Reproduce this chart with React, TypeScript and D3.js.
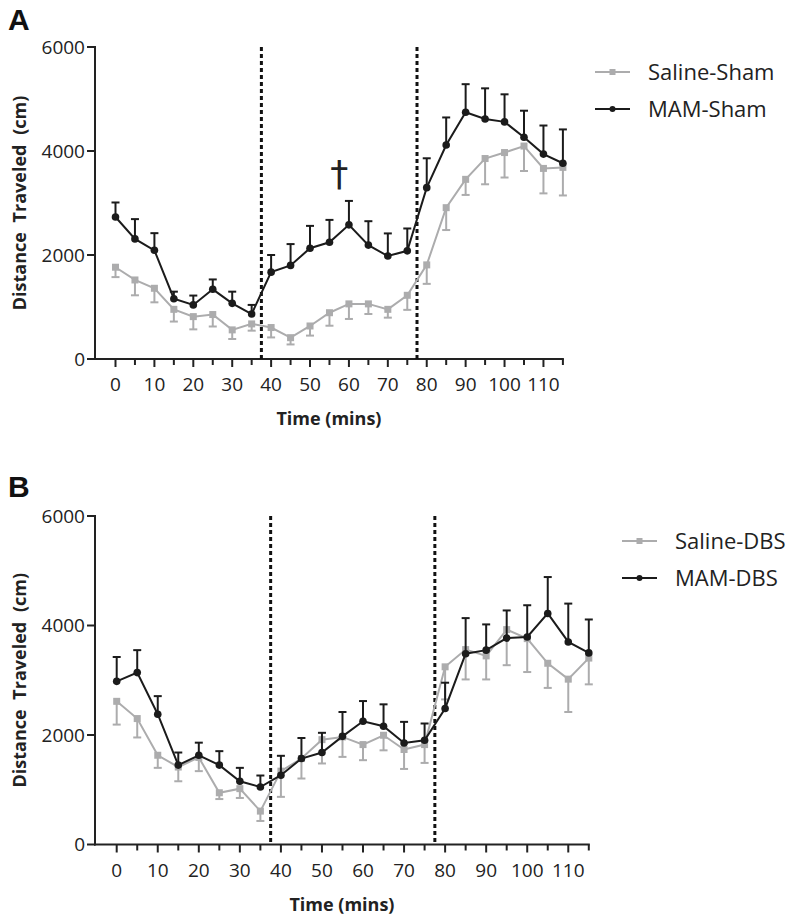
import React from "react";
import * as d3 from "d3";

// ---------- DATA ----------
const times = [0, 5, 10, 15, 20, 25, 30, 35, 40, 45, 50, 55, 60, 65, 70, 75, 80, 85, 90, 95, 100, 105, 110, 115];
const xTickLabels = [0, 10, 20, 30, 40, 50, 60, 70, 80, 90, 100, 110];
const xMinorTicks = [5, 15, 25, 35, 45, 55, 65, 75, 85, 95, 105, 115];
const yTicks = [0, 2000, 4000, 6000];
const phaseBoundaries = [37.5, 77.5];

// Panel A
const salineShamMean = [1765, 1520, 1360, 955, 815, 855, 560, 675, 605, 410, 635, 890, 1060, 1060, 955, 1225, 1810, 2910, 3455, 3855, 3970, 4095, 3665, 3685];
const salineShamSem = [190, 295, 270, 235, 245, 230, 175, 130, 190, 130, 185, 250, 290, 195, 160, 280, 365, 430, 300, 495, 480, 480, 480, 540];
const mamShamMean = [2730, 2310, 2090, 1160, 1040, 1340, 1070, 865, 1670, 1800, 2130, 2245, 2580, 2190, 1980, 2080, 3295, 4115, 4745, 4615, 4560, 4265, 3940, 3765];
const mamShamSem = [280, 380, 330, 135, 180, 190, 225, 175, 330, 410, 430, 430, 460, 460, 435, 430, 565, 530, 540, 590, 530, 510, 550, 650];

// Panel B
const salineDbsMean = [2615, 2300, 1630, 1415, 1590, 945, 1020, 610, 1340, 1570, 1915, 1965, 1825, 1995, 1735, 1825, 3245, 3560, 3445, 3925, 3760, 3310, 3020, 3405];
const salineDbsSem = [425, 345, 230, 260, 250, 115, 170, 180, 470, 365, 435, 365, 285, 275, 355, 335, 595, 545, 430, 650, 610, 450, 600, 480];
const mamDbsMean = [2980, 3140, 2380, 1450, 1630, 1450, 1155, 1050, 1265, 1570, 1680, 1975, 2250, 2160, 1855, 1905, 2485, 3485, 3550, 3770, 3790, 4220, 3700, 3500];
const mamDbsSem = [445, 410, 330, 230, 230, 255, 245, 210, 355, 375, 360, 445, 370, 400, 385, 305, 470, 650, 470, 505, 580, 665, 700, 610];

const annotationA = [{ time: 57.5, value: 3330, text: "\u2020" }];

// ---------- STYLE ----------
const GRAY = "#acacad";
const BLACK = "#1b1b1b";
const FONT = "'Open Sans', 'Noto Sans', sans-serif";

type Series = { name: string; mean: number[]; sem: number[]; color: string; marker: "square" | "circle"; dir: 1 | -1 };

type PanelCfg = {
  letter: string;
  letterY: number;
  yAxisX: number;
  x0: number;
  x1: number;
  yTop: number;
  yBottom: number;
  saline: Series;
  mam: Series;
  legendX: number;
  legendY: number[];
  annotations: { time: number; value: number; text: string }[];
};

function Marker({ cx, cy, type, color, size }: { cx: number; cy: number; type: string; color: string; size: number }) {
  if (type === "square") {
    return <rect x={cx - size} y={cy - size} width={size * 2} height={size * 2} fill={color} />;
  }
  return <circle cx={cx} cy={cy} r={size} fill={color} />;
}

function SeriesMarks({ s, x, y }: { s: Series; x: d3.ScaleLinear<number, number>; y: d3.ScaleLinear<number, number> }) {
  const line = d3
    .line<number>()
    .x((_, i) => x(times[i]))
    .y((d) => y(d));
  const cap = 4;
  return (
    <g>
      {s.mean.map((m, i) => {
        const cx = x(times[i]);
        const y1 = y(m);
        const y2 = y(m + s.dir * s.sem[i]);
        return (
          <g key={i} stroke={s.color} strokeWidth={2}>
            <line x1={cx} x2={cx} y1={y1} y2={y2} />
            <line x1={cx - cap} x2={cx + cap} y1={y2} y2={y2} />
          </g>
        );
      })}
      <path d={line(s.mean) || ""} fill="none" stroke={s.color} strokeWidth={2} />
      {s.mean.map((m, i) => (
        <Marker key={i} cx={x(times[i])} cy={y(m)} type={s.marker} color={s.color} size={s.marker === "square" ? 3.5 : 3.8} />
      ))}
    </g>
  );
}

function Panel({ cfg }: { cfg: PanelCfg }) {
  const x = d3.scaleLinear().domain([0, 115]).range([cfg.x0, cfg.x1]);
  const y = d3.scaleLinear().domain([0, 6000]).range([cfg.yBottom, cfg.yTop]);
  const axisW = 2;
  const legendItems = [cfg.saline, cfg.mam];
  return (
    <g fontFamily={FONT}>
      <text x={8} y={cfg.letterY} fontSize={30} fontWeight="bold" fill="#111" fontFamily="'Liberation Sans', Arial, sans-serif">
        {cfg.letter}
      </text>

      {/* y axis */}
      <line x1={cfg.yAxisX} x2={cfg.yAxisX} y1={y(6000) - 1} y2={cfg.yBottom + 1} stroke="#222" strokeWidth={axisW} />
      {yTicks.map((t) => (
        <g key={t}>
          <line x1={cfg.yAxisX - 8} x2={cfg.yAxisX} y1={y(t)} y2={y(t)} stroke="#222" strokeWidth={axisW} />
          <text x={cfg.yAxisX - 10} y={y(t)} dy="0.35em" textAnchor="end" fontSize={19} fill="#222">
            {t}
          </text>
        </g>
      ))}
      <text
        transform={`translate(${26},${(cfg.yTop + cfg.yBottom) / 2}) rotate(-90)`}
        textAnchor="middle"
        fontSize={18}
        fontWeight="bold"
        wordSpacing={5}
        fill="#222"
      >
        Distance  Traveled  (cm)
      </text>

      {/* x axis */}
      <line x1={cfg.yAxisX - 1} x2={x(115) + 1} y1={cfg.yBottom} y2={cfg.yBottom} stroke="#222" strokeWidth={axisW} />
      {xTickLabels.map((t) => (
        <g key={t}>
          <line x1={x(t)} x2={x(t)} y1={cfg.yBottom} y2={cfg.yBottom + 8} stroke="#222" strokeWidth={axisW} />
          <text x={x(t)} y={cfg.yBottom + 32} textAnchor="middle" fontSize={19} fill="#222">
            {t}
          </text>
        </g>
      ))}
      {xMinorTicks.map((t) => (
        <line key={t} x1={x(t)} x2={x(t)} y1={cfg.yBottom} y2={cfg.yBottom + 6} stroke="#222" strokeWidth={axisW} />
      ))}
      <text x={(cfg.yAxisX + x(115)) / 2} y={cfg.yBottom + 66} textAnchor="middle" fontSize={18} fontWeight="bold" fill="#222">
        Time (mins)
      </text>

      {/* phase boundaries */}
      {phaseBoundaries.map((t) => (
        <line key={t} x1={x(t)} x2={x(t)} y1={y(6000)} y2={cfg.yBottom} stroke="#111" strokeWidth={3} strokeDasharray="4 3" />
      ))}

      <SeriesMarks s={cfg.saline} x={x} y={y} />
      <SeriesMarks s={cfg.mam} x={x} y={y} />

      {cfg.annotations.map((a, i) => (
        <text key={i} x={x(a.time)} y={y(a.value)} textAnchor="middle" fontSize={36} fill="#222" fontFamily="'DejaVu Sans', sans-serif">
          {a.text}
        </text>
      ))}

      {/* legend */}
      {legendItems.map((s, i) => (
        <g key={s.name}>
          <line x1={cfg.legendX} x2={cfg.legendX + 35} y1={cfg.legendY[i]} y2={cfg.legendY[i]} stroke={s.color} strokeWidth={2} />
          <Marker cx={cfg.legendX + 17.5} cy={cfg.legendY[i]} type={s.marker} color={s.color} size={3} />
          <text x={cfg.legendX + 53} y={cfg.legendY[i]} dy="0.36em" fontSize={22} fill="#222">
            {s.name}
          </text>
        </g>
      ))}
    </g>
  );
}

const panelA: PanelCfg = {
  letter: "A",
  letterY: 30,
  yAxisX: 95,
  x0: 115.5,
  x1: 562.9,
  yTop: 47,
  yBottom: 359,
  saline: { name: "Saline-Sham", mean: salineShamMean, sem: salineShamSem, color: GRAY, marker: "square", dir: -1 },
  mam: { name: "MAM-Sham", mean: mamShamMean, sem: mamShamSem, color: BLACK, marker: "circle", dir: 1 },
  legendX: 595,
  legendY: [72, 109],
  annotations: annotationA,
};

const panelB: PanelCfg = {
  letter: "B",
  letterY: 497,
  yAxisX: 95,
  x0: 116.7,
  x1: 588.8,
  yTop: 516,
  yBottom: 844.5,
  saline: { name: "Saline-DBS", mean: salineDbsMean, sem: salineDbsSem, color: GRAY, marker: "square", dir: -1 },
  mam: { name: "MAM-DBS", mean: mamDbsMean, sem: mamDbsSem, color: BLACK, marker: "circle", dir: 1 },
  legendX: 622,
  legendY: [541, 578],
  annotations: [],
};

export default function App() {
  return (
    <svg
      width={800}
      height={923}
      viewBox="0 0 800 923"
      style={{ position: "absolute", left: 0, top: 0, background: "#fff" }}
    >
      <rect x={0} y={0} width={800} height={923} fill="#fff" />
      <Panel cfg={panelA} />
      <Panel cfg={panelB} />
    </svg>
  );
}
